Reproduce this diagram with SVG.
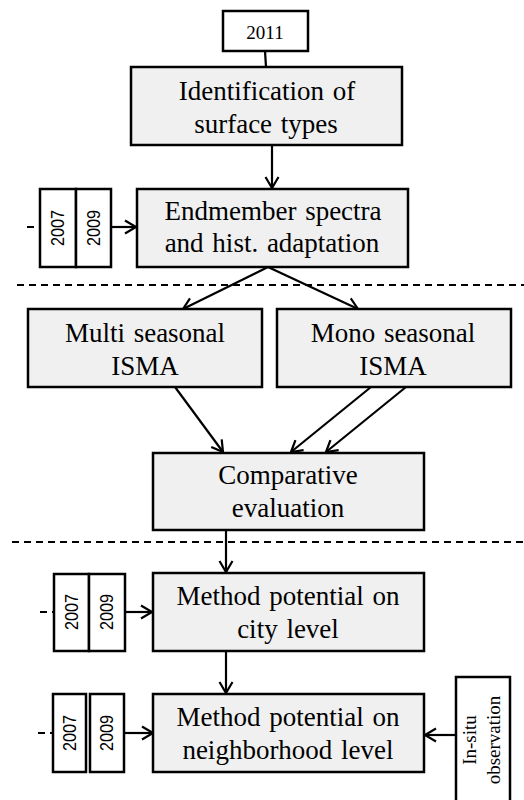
<svg xmlns="http://www.w3.org/2000/svg" width="524" height="800" viewBox="0 0 524 800">
<defs>
<marker id="arr" markerUnits="userSpaceOnUse" markerWidth="16" markerHeight="16" viewBox="-12 -8 14 16" refX="0" refY="0" orient="auto">
<path d="M -11 -6.5 L 0 0 L -11 6.5" fill="none" stroke="#000" stroke-width="2.2"/>
</marker>
</defs>
<style>
.box{fill:#f0f0f0;stroke:#000;stroke-width:2.5}
.wbox{fill:#fff;stroke:#000;stroke-width:2.5}
.t{font-family:"Liberation Serif","Times New Roman",serif;font-size:27px;text-anchor:middle;fill:#000;word-spacing:2px}
.y{font-family:"Liberation Serif","Times New Roman",serif;font-size:19px;text-anchor:middle;fill:#000}
.v{font-family:"Liberation Sans",Arial,sans-serif;font-size:18px;text-anchor:middle;fill:#000}
.c{fill:none;stroke:#000;stroke-width:2.2}
.d{fill:none;stroke:#000;stroke-width:1.8;stroke-dasharray:7 5}
</style>
<g id="dividers">
<line class="d" x1="17" y1="285" x2="524" y2="285"/>
<line class="d" x1="12" y1="542" x2="524" y2="542"/>
</g>
<g id="connectors">
<line class="c" x1="265" y1="51" x2="266" y2="67"/>
<line class="c" x1="272" y1="146" x2="272" y2="188" marker-end="url(#arr)"/>
<line class="d" x1="27" y1="227" x2="40" y2="227"/>
<line class="c" x1="111" y1="227" x2="136" y2="227" marker-end="url(#arr)"/>
<line class="c" x1="268" y1="267" x2="183" y2="309" marker-end="url(#arr)"/>
<line class="c" x1="268" y1="267" x2="358" y2="309" marker-end="url(#arr)"/>
<line class="c" x1="175" y1="387" x2="223" y2="452" marker-end="url(#arr)"/>
<line class="c" x1="371" y1="387" x2="291" y2="452" marker-end="url(#arr)"/>
<line class="c" x1="406" y1="387" x2="326" y2="452" marker-end="url(#arr)"/>
<line class="c" x1="226" y1="530" x2="226" y2="572" marker-end="url(#arr)"/>
<line class="d" x1="40" y1="612" x2="54" y2="612"/>
<line class="c" x1="125" y1="612" x2="152" y2="612" marker-end="url(#arr)"/>
<line class="c" x1="226" y1="651" x2="226" y2="693" marker-end="url(#arr)"/>
<line class="d" x1="38" y1="733" x2="53" y2="733"/>
<line class="c" x1="124" y1="733" x2="153" y2="733" marker-end="url(#arr)"/>
<line class="c" x1="456" y1="735" x2="425" y2="735" marker-end="url(#arr)"/>
</g>
<g id="n2011">
<rect class="wbox" x="223" y="11" width="85" height="40"/>
<text class="y" x="265" y="39">2011</text>
</g>
<g id="identification">
<rect class="box" x="131" y="67" width="271" height="78"/>
<text class="t" x="267" y="100" word-spacing="5">Identification of</text>
<text class="t" x="266" y="133">surface types</text>
</g>
<g id="years1">
<rect class="wbox" x="40" y="189" width="36" height="78"/>
<rect class="wbox" x="76" y="189" width="35" height="78"/>
<text class="v" transform="translate(64,228) rotate(-90)" textLength="36" lengthAdjust="spacingAndGlyphs">2007</text>
<text class="v" transform="translate(100,228) rotate(-90)" textLength="36" lengthAdjust="spacingAndGlyphs">2009</text>
</g>
<g id="endmember">
<rect class="box" x="137" y="189" width="271" height="78"/>
<text class="t" x="273" y="220" word-spacing="5">Endmember spectra</text>
<text class="t" x="272" y="252">and hist. adaptation</text>
</g>
<g id="multi">
<rect class="box" x="28" y="309" width="234" height="78"/>
<text class="t" x="145" y="342">Multi seasonal</text>
<text class="t" x="145" y="375">ISMA</text>
</g>
<g id="mono">
<rect class="box" x="277" y="309" width="234" height="78"/>
<text class="t" x="393" y="342">Mono seasonal</text>
<text class="t" x="393" y="375">ISMA</text>
</g>
<g id="comparative">
<rect class="box" x="153" y="453" width="271" height="77"/>
<text class="t" x="288" y="484">Comparative</text>
<text class="t" x="288" y="517">evaluation</text>
</g>
<g id="years2">
<rect class="wbox" x="54" y="574" width="35" height="77"/>
<rect class="wbox" x="89" y="574" width="36" height="77"/>
<text class="v" transform="translate(78,612) rotate(-90)" textLength="36" lengthAdjust="spacingAndGlyphs">2007</text>
<text class="v" transform="translate(113,612) rotate(-90)" textLength="36" lengthAdjust="spacingAndGlyphs">2009</text>
</g>
<g id="city">
<rect class="box" x="153" y="573" width="271" height="78"/>
<text class="t" x="288" y="605">Method potential on</text>
<text class="t" x="288" y="638">city level</text>
</g>
<g id="years3">
<rect class="wbox" x="53" y="694" width="33" height="78"/>
<rect class="wbox" x="90" y="694" width="34" height="78"/>
<text class="v" transform="translate(76,733) rotate(-90)" textLength="36" lengthAdjust="spacingAndGlyphs">2007</text>
<text class="v" transform="translate(113,733) rotate(-90)" textLength="36" lengthAdjust="spacingAndGlyphs">2009</text>
</g>
<g id="neighborhood">
<rect class="box" x="153" y="694" width="271" height="78"/>
<text class="t" x="288" y="726">Method potential on</text>
<text class="t" x="288" y="759" word-spacing="4">neighborhood level</text>
</g>
<g id="insitu">
<rect class="wbox" x="456" y="677" width="54" height="130"/>
<text class="y" transform="translate(476,740) rotate(-90)">In-situ</text>
<text class="y" transform="translate(500,740) rotate(-90)">observation</text>
</g>
</svg>
